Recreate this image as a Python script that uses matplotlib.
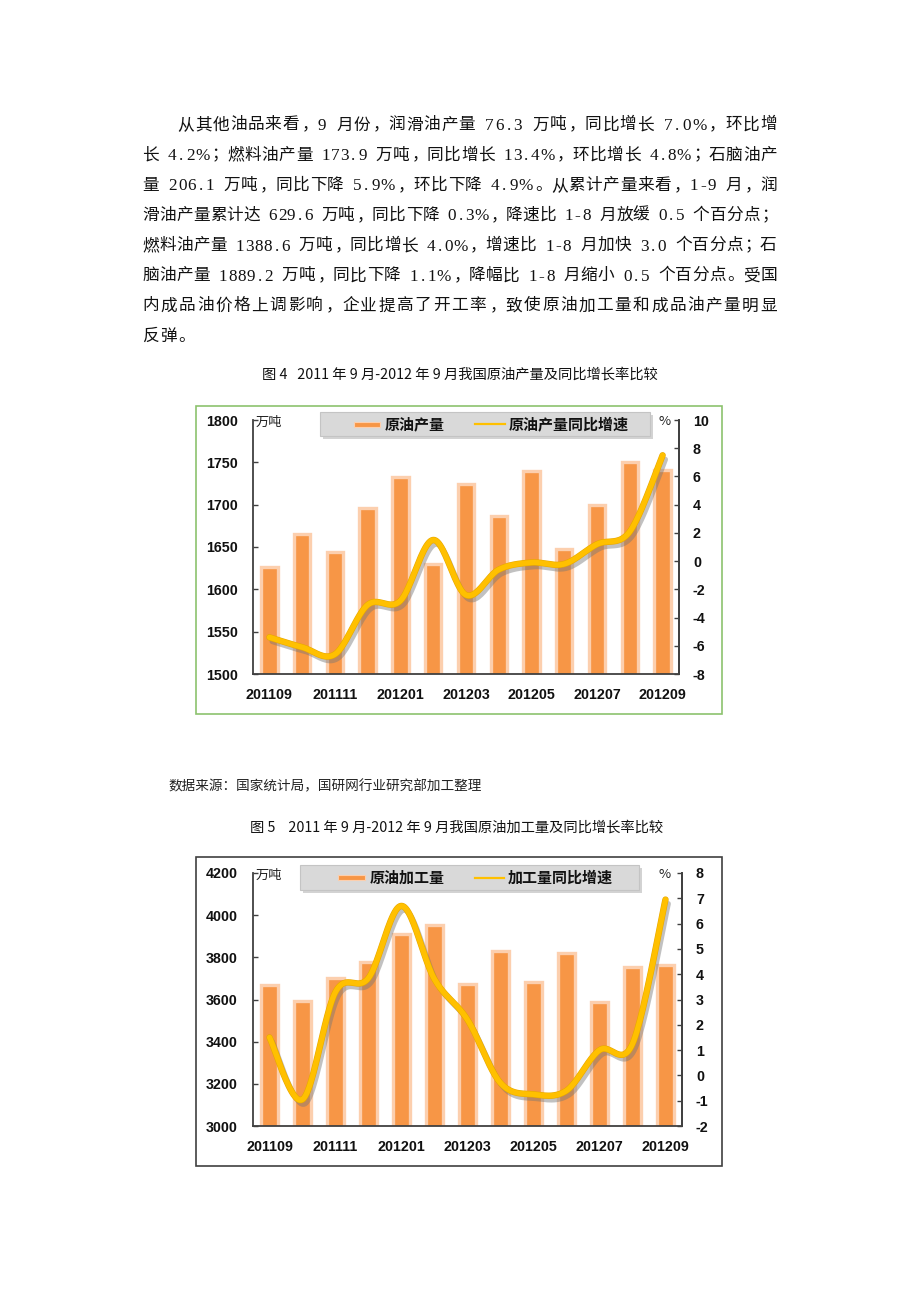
import numpy as np
import matplotlib
matplotlib.use('Agg')
import matplotlib.pyplot as plt
import matplotlib.patheffects as pe
from matplotlib.patches import Rectangle
from matplotlib.lines import Line2D

plt.rcParams['font.family'] = ['Liberation Sans', 'Noto Sans CJK SC', 'DejaVu Sans']
plt.rcParams['axes.unicode_minus'] = False
CJK = ['Noto Sans CJK SC', 'DejaVu Sans']
SERIF = ['Liberation Serif', 'Noto Sans CJK SC']

# 数据
months = ['201109', '201110', '201111', '201112', '201201', '201202', '201203',
          '201204', '201205', '201206', '201207', '201208', '201209']
crude_output = [1626, 1665, 1644, 1696, 1733, 1630, 1724, 1687, 1740, 1648, 1700, 1750, 1741]
crude_yoy = [-5.4, -6.1, -6.6, -3.1, -2.8, 1.5, -2.4, -0.6, -0.1, -0.2, 1.2, 2.1, 7.5]
refining = [3668, 3594, 3700, 3778, 3909, 3955, 3673, 3829, 3684, 3821, 3586, 3752, 3763]
refining_yoy = [1.5, -0.95, 3.3, 3.85, 6.7, 3.8, 2.2, -0.3, -0.75, -0.6, 1.0, 1.25, 6.95]

paragraph = [
    '从其他油品来看，9 月份，润滑油产量 76.3 万吨，同比增长 7.0%，环比增',
    '长 4.2%；燃料油产量 173.9 万吨，同比增长 13.4%，环比增长 4.8%；石脑油产',
    '量 206.1 万吨，同比下降 5.9%，环比下降 4.9%。从累计产量来看，1-9 月，润',
    '滑油产量累计达 629.6 万吨，同比下降 0.3%，降速比 1-8 月放缓 0.5 个百分点；',
    '燃料油产量 1388.6 万吨，同比增长 4.0%，增速比 1-8 月加快 3.0 个百分点；石',
    '脑油产量 1889.2 万吨，同比下降 1.1%，降幅比 1-8 月缩小 0.5 个百分点。受国',
    '内成品油价格上调影响，企业提高了开工率，致使原油加工量和成品油产量明显',
    '反弹。',
]
caption4 = '图 4   2011 年 9 月-2012 年 9 月我国原油产量及同比增长率比较'
caption5 = '图 5    2011 年 9 月-2012 年 9 月我国原油加工量及同比增长率比较'
source = '数据来源：国家统计局，国研网行业研究部加工整理'

W, H = 920, 1302
fig = plt.figure(figsize=(W / 100, H / 100), dpi=100)
renderer = fig.canvas.get_renderer()


def fx(x):
    return x / W


def fy(y):
    return 1 - y / H


def smooth(x, y, n=24):
    # Catmull-Rom 平滑曲线（类似 Excel 的平滑线）
    P = np.column_stack([x, y]).astype(float)
    P = np.vstack([P[0], P, P[-1]])
    out = []
    t = np.linspace(0, 1, n, endpoint=False)[:, None]
    for i in range(1, len(P) - 2):
        p0, p1, p2, p3 = P[i - 1], P[i], P[i + 1], P[i + 2]
        seg = 0.5 * (2 * p1 + (-p0 + p2) * t + (2 * p0 - 5 * p1 + 4 * p2 - p3) * t ** 2
                     + (-p0 + 3 * p1 - 3 * p2 + p3) * t ** 3)
        out.append(seg)
    out.append(P[-2][None])
    s = np.vstack(out)
    return s[:, 0], s[:, 1]


# 正文段落（两端对齐，半角字符按半个字宽排）
em = 17.3
punct = '，；。：'
ascii_w = {}


def char_width(c):
    if ord(c) > 255:
        return em
    if c == ' ':
        return em / 2
    if c not in ascii_w:
        tt = fig.text(0, 0, c, fontsize=12.3, family=SERIF)
        ascii_w[c] = max(em / 2, tt.get_window_extent(renderer).width + 1)
        tt.remove()
    return ascii_w[c]


for i, line in enumerate(paragraph):
    y = 125 + i * 30.15
    x0 = 177 if i == 0 else 142
    widths = [char_width(c) for c in line]
    natural = sum(widths)
    gap = (777 - x0 - natural) / (len(line) - 1) if i < len(paragraph) - 1 else 0
    x = x0
    for c, w in zip(line, widths):
        if c == ' ':
            pass
        elif c in punct:
            fig.text(fx(x + 0.12 * em), fy(y), c, ha='left', va='center',
                     fontsize=12, family=CJK, color='#111111')
        elif ord(c) > 255:
            fig.text(fx(x + w / 2), fy(y), c, ha='center', va='center',
                     fontsize=12, family=CJK, color='#111111')
        else:
            fig.text(fx(x + w / 2), fy(y + 1), c, ha='center', va='center',
                     fontsize=12.3, family=SERIF, color='#111111')
        x += w + gap

fig.text(fx(460), fy(375), caption4, ha='center', va='center', fontsize=10.3, family=CJK,
         color='#111111')
fig.text(fx(168), fy(786), source, ha='left', va='center', fontsize=9.8, family=CJK,
         color='#222222')
fig.text(fx(457), fy(828), caption5, ha='center', va='center', fontsize=10.3, family=CJK,
         color='#111111')


def make_chart(box, rect, bars, rates, ylim, yticks, y2lim, y2ticks, leg, border_color):
    # 外框
    bx0, by0, bx1, by1 = box
    fig.patches.append(Rectangle((fx(bx0), fy(by1)), (bx1 - bx0) / W, (by1 - by0) / H,
                                 transform=fig.transFigure, facecolor='none',
                                 edgecolor=border_color, linewidth=1.2, zorder=0))
    l, t, r, b = rect
    ax = fig.add_axes([fx(l), fy(b), (r - l) / W, (b - t) / H])
    x = np.arange(len(months))
    ax.bar(x, bars, width=0.5, color='#F79646', edgecolor='#FCCFAE', linewidth=2.4, zorder=2)
    ax.set_xlim(-0.5, len(months) - 0.5)
    ax.set_ylim(*ylim)
    ax.set_yticks(yticks)
    ax.set_xticks(x[::2])
    ax.set_xticklabels(months[::2])
    ax.spines['top'].set_visible(False)
    for s in ['left', 'bottom', 'right']:
        ax.spines[s].set_color('#404040')
        ax.spines[s].set_linewidth(1.3)
    ax.tick_params(axis='y', direction='in', length=3.5, width=1, color='#404040', pad=11,
                   labelsize=10.3)
    ax.tick_params(axis='x', length=0, pad=10, labelsize=10.3)
    for lab in ax.get_xticklabels() + ax.get_yticklabels():
        lab.set_fontweight('bold')
        lab.set_color('#111111')

    ax2 = ax.twinx()
    ax2.set_ylim(*y2lim)
    ax2.set_yticks(y2ticks)
    for s in ['top', 'left', 'bottom']:
        ax2.spines[s].set_visible(False)
    ax2.spines['right'].set_color('#404040')
    ax2.spines['right'].set_linewidth(1.3)
    ax2.tick_params(axis='y', direction='in', length=3.5, width=1, color='#404040', pad=10,
                    labelsize=10.3)
    for lab in ax2.get_yticklabels():
        lab.set_fontweight('bold')
        lab.set_color('#111111')
    sx, sy = smooth(x, rates)
    ax2.plot(sx, sy, color='#FFC000', linewidth=3.8, solid_capstyle='round', zorder=3,
             path_effects=[pe.SimpleLineShadow(offset=(2, -3), shadow_color='#777777', alpha=0.45),
                           pe.Stroke(linewidth=4.6, foreground='#E8A800'), pe.Normal()])

    # 单位
    fig.text(fx(l + 3), fy(t + 2), '万吨', ha='left', va='center', fontsize=9.5, family=CJK,
             color='#222222')
    fig.text(fx(665), fy(t + 1), '%', ha='center', va='center', fontsize=9.5, family=CJK,
             color='#222222')

    # 图例
    lx0, ly0, lx1, ly1, items = leg
    fig.patches.append(Rectangle((fx(lx0 + 3), fy(ly1 + 3)), (lx1 - lx0) / W, (ly1 - ly0) / H,
                                 transform=fig.transFigure, facecolor='#A8A8A8', alpha=0.5,
                                 edgecolor='none', zorder=4))
    fig.patches.append(Rectangle((fx(lx0), fy(ly1)), (lx1 - lx0) / W, (ly1 - ly0) / H,
                                 transform=fig.transFigure, facecolor='#D9D9D9',
                                 edgecolor='#C4C4C4', linewidth=0.8, zorder=5))
    ym = (ly0 + ly1) / 2
    (p0, p1, t0), (q0, q1, t1) = items
    fig.patches.append(Rectangle((fx(p0), fy(ym + 2.5)), (p1 - p0) / W, 5 / H,
                                 transform=fig.transFigure, facecolor='#F79646',
                                 edgecolor='#FCCFAE', linewidth=0.8, zorder=6))
    fig.text(fx(p1 + 5), fy(ym), t0, ha='left', va='center', fontsize=10.8, fontweight='bold',
             family=CJK, color='#111111', zorder=7)
    fig.lines.append(Line2D([fx(q0), fx(q1)], [fy(ym), fy(ym)], transform=fig.transFigure,
                            color='#FFC000', linewidth=1.6, zorder=6))
    fig.text(fx(q1 + 4), fy(ym), t1, ha='left', va='center', fontsize=10.8, fontweight='bold',
             family=CJK, color='#111111', zorder=7)
    return ax


make_chart((196, 406, 722, 714), (253, 420, 679, 674), crude_output, crude_yoy,
           (1500, 1800), range(1500, 1801, 50), (-8, 10), range(-8, 11, 2),
           (320, 412, 650, 436, [(354, 380, '原油产量'), (475, 505, '原油产量同比增速')]),
           '#8CC26E')

make_chart((196, 857, 722, 1166), (253, 873, 682, 1126), refining, refining_yoy,
           (3000, 4200), range(3000, 4201, 200), (-2, 8), range(-2, 9, 1),
           (300, 865, 639, 890, [(338, 365, '原油加工量'), (475, 504, '加工量同比增速')]),
           '#404040')

fig.savefig('out.png', dpi=100)
